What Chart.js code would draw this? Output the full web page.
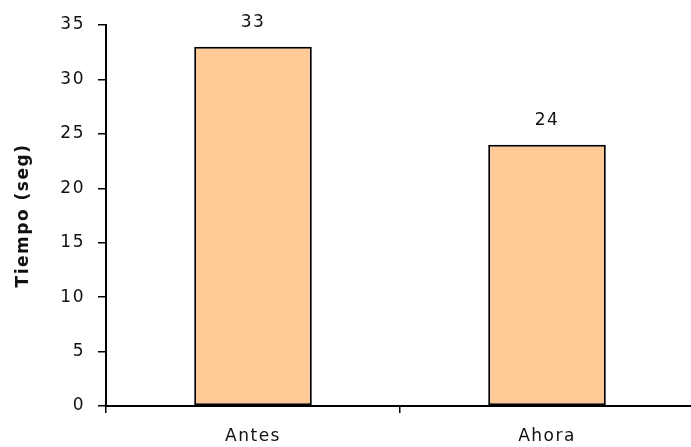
<!DOCTYPE html>
<html>
<head>
<meta charset="utf-8">
<script src="https://cdn.jsdelivr.net/npm/chart.js@4"></script>
<style>
  html, body { margin: 0; padding: 0; background: #fff; overflow: hidden; width: 691px; height: 447px; }
  #wrap { width: 700px; height: 447px; }
</style>
</head>
<body>
<div id="wrap"><canvas id="c" width="700" height="447"></canvas></div>
<script>
// Tiempo medido antes y ahora (segundos)
const categories = ["Antes", "Ahora"];
const tiempos = [33, 24];
const yTicks = [0, 5, 10, 15, 20, 25, 30, 35];

const FONT = "'DejaVu Sans', Verdana, sans-serif";
const SPACING = '1.5px';

// Texto algo espaciado en todo el lienzo
const wideText = {
  id: 'wideText',
  beforeUpdate(chart) { chart.ctx.letterSpacing = SPACING; },
  beforeLayout(chart) { chart.ctx.letterSpacing = SPACING; },
  beforeDraw(chart) { chart.ctx.letterSpacing = SPACING; }
};

// Valor encima de cada barra
const valueLabels = {
  id: 'valueLabels',
  afterDatasetsDraw(chart) {
    const ctx = chart.ctx;
    const meta = chart.getDatasetMeta(0);
    ctx.save();
    ctx.letterSpacing = SPACING;
    ctx.font = "17px " + FONT;
    ctx.fillStyle = "#111";
    ctx.textAlign = "center";
    ctx.textBaseline = "middle";
    meta.data.forEach((bar, i) => {
      ctx.fillText(String(chart.data.datasets[0].data[i]), bar.x, bar.y - 24);
    });
    ctx.restore();
  }
};

new Chart(document.getElementById('c'), {
  type: 'bar',
  data: {
    labels: categories,
    datasets: [{
      data: tiempos,
      backgroundColor: '#FFCA95',
      borderColor: '#000',
      borderWidth: 2,
      borderSkipped: false,
      categoryPercentage: 1.0,
      barPercentage: 0.4
    }]
  },
  options: {
    responsive: false,
    animation: false,
    events: [],
    layout: { padding: { top: 25, right: 6, left: 9, bottom: 0 } },
    plugins: { legend: { display: false }, tooltip: { enabled: false } },
    scales: {
      x: {
        offset: true,
        grid: { offset: true, drawOnChartArea: false, tickLength: 7, tickColor: '#000', lineWidth: 1.5 },
        border: { color: '#000', width: 2 },
        ticks: { color: '#111', font: { family: FONT, size: 17 }, padding: 13 },
        afterFit(scale) { scale.height = 41; }
      },
      y: {
        min: 0,
        max: 35,
        afterBuildTicks(scale) { scale.ticks = yTicks.map(v => ({ value: v })); },
        grid: { drawOnChartArea: false, tickLength: 8, tickColor: '#000', lineWidth: 1.5 },
        border: { color: '#000', width: 2 },
        ticks: { color: '#111', font: { family: FONT, size: 17 }, padding: 13 },
        title: {
          display: true,
          text: 'Tiempo (seg)',
          color: '#111',
          font: { family: FONT, size: 17, weight: 'bold' },
          padding: { top: 4, bottom: 4 }
        },
        afterFit(scale) { scale.width = 97; }
      }
    }
  },
  plugins: [wideText, valueLabels]
});
</script>
</body>
</html>
